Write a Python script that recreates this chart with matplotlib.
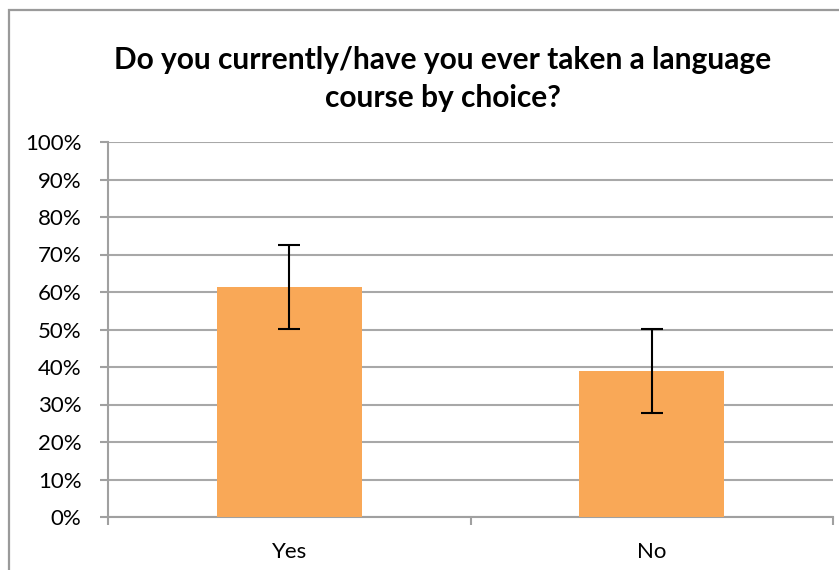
import matplotlib
matplotlib.use("Agg")
import matplotlib.pyplot as plt
from matplotlib.patches import Rectangle
from matplotlib.ticker import PercentFormatter

categories = ["Yes", "No"]
values = [61.4, 38.9]
errors = [11.2, 11.2]
y_ticks = [0, 10, 20, 30, 40, 50, 60, 70, 80, 90, 100]
title = "Do you currently/have you ever taken a language\ncourse by choice?"

W, H = 839, 570
fig = plt.figure(figsize=(W / 100, H / 100), dpi=100)
plt.rcParams['font.family'] = ['Lato', 'DejaVu Sans']

# outer chart border (runs off the right and bottom edges)
fig.patches.append(Rectangle((9 / W, -0.05), 1.1, 1 - 9.5 / H + 0.05, transform=fig.transFigure,
                             fill=False, edgecolor="#9a9a9a", linewidth=1.6))

ax = fig.add_axes([108 / W, 1 - 517 / H, (833 - 108) / W, (517 - 142) / H])
x = list(range(len(categories)))
ax.bar(x, values, width=0.4, color="#f9a857", zorder=3)
ax.errorbar(x, values, yerr=errors, fmt="none", ecolor="black", elinewidth=1.5,
            capsize=8, capthick=1.5, zorder=4)

ax.set_xlim(-0.5, 1.5)
ax.set_ylim(0, 100)
ax.set_yticks(y_ticks)
ax.yaxis.set_major_formatter(PercentFormatter(decimals=0))
ax.set_xticks(x)
ax.set_xticklabels(categories)
ax.set_xticks([-0.5, 0.5, 1.5], minor=True)
ax.tick_params(axis="x", which="major", length=0, labelsize=16, pad=18)
ax.tick_params(axis="x", which="minor", length=6, width=1.5, color="#a0a0a0")
ax.tick_params(axis="y", length=6, width=1.5, color="#a0a0a0", labelsize=16, pad=13)
ax.grid(axis="y", color="#a8a8a8", linewidth=1.5, zorder=0)
for s in ["top", "right"]:
    ax.spines[s].set_visible(False)
for s in ["left", "bottom"]:
    ax.spines[s].set_color("#a0a0a0")
    ax.spines[s].set_linewidth(1.5)

fig.text(443 / W, 1 - 79 / H, title, ha="center", va="center", fontsize=21.5,
         fontweight="bold", linespacing=1.42)

fig.savefig("out.png", dpi=100)
